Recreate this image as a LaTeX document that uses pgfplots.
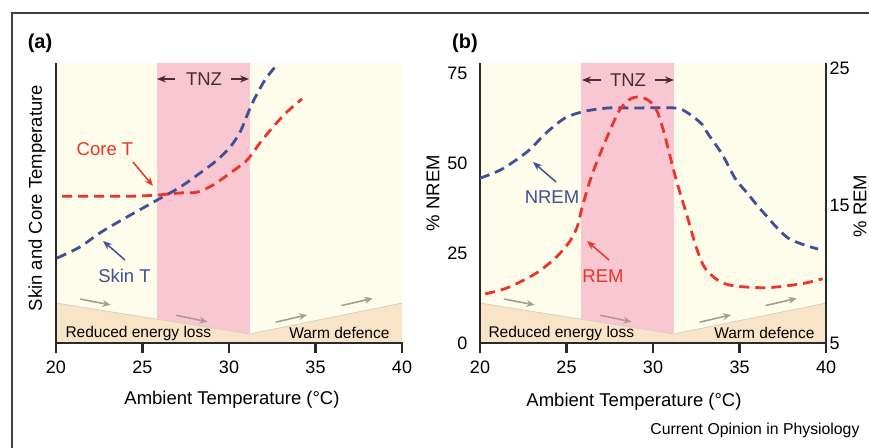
\documentclass[border=0pt]{standalone}
\usepackage{fontspec}
\setmainfont{Liberation Sans}
\usepackage{pgfplots}
\pgfplotsset{compat=1.18}
\usetikzlibrary{arrows.meta}
\definecolor{cream}{HTML}{FEFCEA}
\definecolor{pinkc}{HTML}{F8C7D1}
\definecolor{tanc}{HTML}{FAE4C8}
\definecolor{tanline}{HTML}{D8D0C2}
\definecolor{axisc}{HTML}{2A2A2A}
\definecolor{bluec}{HTML}{3F4F98}
\definecolor{redc}{HTML}{EC3528}
\definecolor{arrgray}{HTML}{A39F8E}
\definecolor{arrpink}{HTML}{B8959A}
\definecolor{tnzc}{HTML}{4A2C33}
\tikzset{
  curve/.style={line width=2.8pt, dash pattern=on 10pt off 6pt, smooth},
  garr/.style={-{Stealth[length=8pt,width=7pt]}, line width=1.6pt, draw=arrgray},
  larr/.style={-{Stealth[length=9pt,width=7pt]}, line width=1.5pt},
  big/.style={font=\fontsize{18.5}{20}\selectfont},
}
\pgfplotsset{
  panel/.style={
    scale only axis, width=346pt, height=280pt,
    xmin=20, xmax=40, ymin=0, ymax=77.8,
    axis background/.style={fill=cream},
    clip=false,
    axis x line*=bottom, axis y line*=left,
    axis line style={line width=2.4pt, draw=axisc},
    xtick={20,25,30,35,40},
    tick align=outside, major tick length=9pt,
    xtick style={line width=2pt, color=axisc},
    tick label style={font=\fontsize{18}{20}\selectfont},
    xticklabel style={yshift=-5pt},
    /pgf/number format/assume math mode=true,
  },
}
\newcommand{\zones}{%
  \addplot[draw=none, fill=pinkc, forget plot] coordinates {(25.85,0)(25.85,77.8)(31.2,77.8)(31.2,0)} \closedcycle;
  \addplot[draw=none, fill=tanc, forget plot] coordinates {(20,11.1)(31.2,2.5)(40,11.1)} \closedcycle;
  \addplot[draw=tanline, line width=0.8pt, forget plot] coordinates {(20,11.1)(31.2,2.5)(40,11.1)};
  \addplot[draw=tanline!70, line width=0.8pt, forget plot] coordinates {(31.2,0)(31.2,2.5)};
  \draw[garr] (axis cs:21.4,12.2) -- (axis cs:23.15,10.6);
  \draw[garr, draw=arrpink] (axis cs:26.95,7.7) -- (axis cs:28.75,5.9);
  \draw[garr] (axis cs:32.7,5.8) -- (axis cs:34.5,7.8);
  \draw[garr] (axis cs:36.5,10.4) -- (axis cs:38.3,12.4);
  \draw[line width=2.4pt, draw=axisc] (axis cs:20,77.8) -- (axis cs:20,0) -- (axis cs:40,0);
}
\begin{document}
\begin{tikzpicture}
\useasboundingbox (0pt,0pt) rectangle (869pt,447pt);
\draw[line width=1.3pt, draw=black!75] (12pt,-5pt) -- (12pt,434pt) -- (875pt,434pt);

% panel (a)
\begin{axis}[panel, at={(56pt,104pt)}, anchor=south west, ytick=\empty]
\zones
\addplot[curve, draw=bluec] coordinates {
  (20.06,23.6)(21.39,26.7)(22.54,30.6)(24.1,35.0)(25.84,39.7)(27.17,43.3)
  (28.32,47.2)(29.31,50.8)(30.06,54.4)(30.64,58.6)(31.1,63.9)(31.5,68.1)
  (32.08,73.1)(32.66,76.7)};
\addplot[curve, draw=redc] coordinates {
  (20.35,40.8)(22.54,40.8)(24.45,40.8)(25.84,41.1)(27.17,41.7)(28.15,41.9)
  (29.08,43.9)(30.06,47.2)(31.04,50.8)(31.79,55.6)(32.54,60.0)(33.35,64.2)
  (34.22,67.8)};
\end{axis}

% panel (b), left axis: % NREM
\begin{axis}[panel, at={(480pt,104pt)}, anchor=south west,
  ytick={0,25,50,75}, ytick style={draw=none}]
\zones
\addplot[curve, draw=bluec] coordinates {
  (20.0,45.8)(21.27,48.3)(22.77,53.3)(23.76,58.1)(24.91,62.5)(26.07,64.4)
  (27.4,65.3)(28.96,65.3)(31.27,65.3)(32.02,63.9)(32.83,60.8)(33.18,58.1)
  (33.99,52.5)(34.74,45.8)(35.49,41.4)(36.3,36.7)(37.8,29.2)(39.54,26.1)};
\end{axis}

% panel (b), right axis: % REM
\begin{axis}[scale only axis, width=346pt, height=280pt, at={(480pt,104pt)}, anchor=south west,
  xmin=20, xmax=40, ymin=5, ymax=25.4,
  axis x line=none, axis y line*=right,
  axis line style={line width=2.4pt, draw=axisc},
  ytick={5,15,25}, ytick style={draw=none},
  tick label style={font=\fontsize{18}{20}\selectfont},
  /pgf/number format/assume math mode=true]
\addplot[curve, draw=redc] coordinates {
  (20.3,8.58)(21.6,9.03)(23.2,10.05)(24.3,11.13)(25.1,12.24)(25.6,13.40)
  (25.9,14.87)(26.4,16.98)(27.1,19.27)(28.0,21.82)(28.6,22.71)(29.1,22.92)
  (29.7,22.71)(30.2,21.98)(30.6,20.50)(31.0,18.53)(31.4,16.63)(32.0,14.13)
  (32.5,11.97)(33.0,10.47)(33.8,9.53)(34.7,9.16)(36.6,9.03)(38.6,9.32)
  (39.8,9.68)};
\end{axis}

\begin{scope}[x=1pt,y=1pt]
% x tick marks
\foreach \t in {56,142.5,229,315.5,402,480,566.5,653,739.5,826}
  \draw[line width=2.2pt, draw=axisc] (\t,105) -- (\t,94);
% labels
\node[font=\bfseries\fontsize{20}{22}\selectfont] at (40,404) {(a)};
\node[font=\bfseries\fontsize{20}{22}\selectfont] at (465,404) {(b)};
\node[big, rotate=90] at (37,249) {Skin and Core Temperature};
\node[big, rotate=90] at (433,254) {\% NREM};
\node[big, rotate=90] at (860,241) {\% REM};
\node[big] at (232,47) {Ambient Temperature (°C)};
\node[big] at (634,45) {Ambient Temperature (°C)};
\node[anchor=east, font=\fontsize{15.8}{18}\selectfont] at (863,17) {Current Opinion in Physiology};

% TNZ
\node[big, text=tnzc] at (204,368) {TNZ};
\draw[larr, draw=tnzc] (175,368) -- (157,368);
\draw[larr, draw=tnzc] (231,368) -- (249,368);
\node[big, text=tnzc] at (628,367) {TNZ};
\draw[larr, draw=tnzc] (601,367) -- (582,367);
\draw[larr, draw=tnzc] (655,367) -- (674,367);

% curve labels
\node[big, text=redc] at (105,298) {Core T};
\draw[larr, draw=redc] (133,285) -- (153,261);
\node[big, text=bluec] at (124.5,171) {Skin T};
\draw[larr, draw=bluec] (125,187) -- (103,206);
\node[big, text=bluec] at (552,250) {NREM};
\draw[larr, draw=bluec] (556,265) -- (533,285);
\node[big, text=redc] at (603,171) {REM};
\draw[larr, draw=redc] (609,187) -- (587,206);

% zone texts
\node[anchor=west, font=\fontsize{15.5}{18}\selectfont] at (62,114) {Reduced energy loss};
\node[anchor=east, font=\fontsize{15.5}{18}\selectfont] at (393,114) {Warm defence};
\node[anchor=west, font=\fontsize{15.5}{18}\selectfont] at (485,114) {Reduced energy loss};
\node[anchor=east, font=\fontsize{15.5}{18}\selectfont] at (818,114) {Warm defence};
\end{scope}
\end{tikzpicture}
\end{document}
